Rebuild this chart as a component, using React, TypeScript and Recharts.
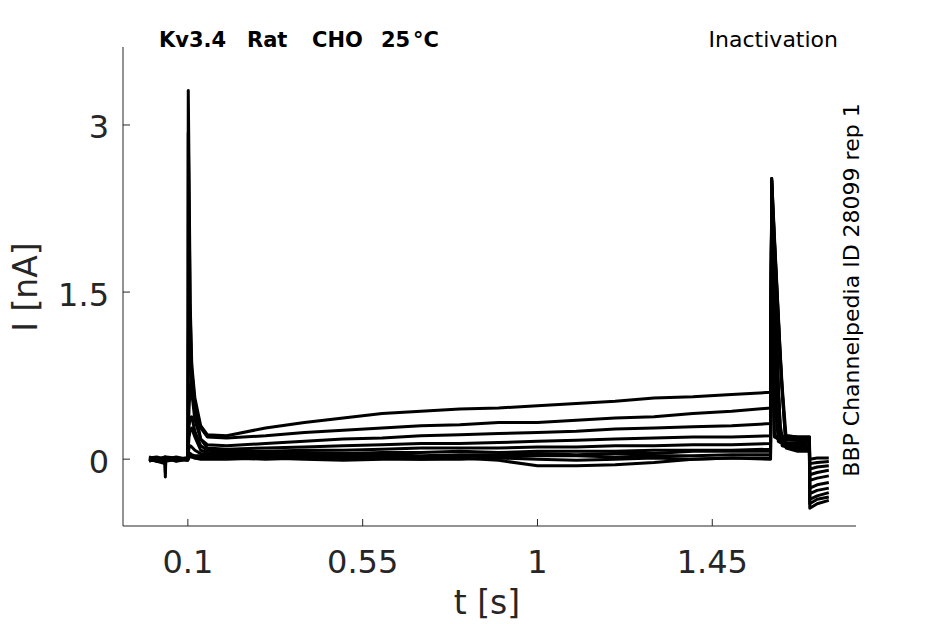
import React from "react";
import { LineChart, Line, XAxis, YAxis } from "recharts";

const FONT = "DejaVu Sans, Verdana, sans-serif";
const AXIS_COLOR = "#262626";

// time points [s]
const T = [
  0, 0.02, 0.041, 0.042, 0.043, 0.07, 0.099,
  0.1,
  0.101, 0.103, 0.106, 0.11, 0.118, 0.133, 0.15,
  0.2, 0.3, 0.4, 0.5, 0.6, 0.7, 0.8, 0.9, 1.0, 1.1, 1.2, 1.3, 1.4, 1.5, 1.6,
  1.603, 1.606, 1.61, 1.615, 1.62, 1.625, 1.63, 1.64, 1.67,
  1.7,
  1.701, 1.72, 1.75,
];

// current traces [nA], one per prepulse step
const TRACE_1 = [
  0.01, 0.02, 0.0, -0.02, 0.01, 0.0, 0.01,
  0.02,
  3.31, 2.6, 1.4, 0.85, 0.55, 0.3, 0.22,
  0.21, 0.28, 0.33, 0.37, 0.41, 0.43, 0.45, 0.46, 0.48, 0.5, 0.52, 0.55, 0.56, 0.58, 0.6,
  2.25, 0.9, 0.21, 0.2, 0.21, 0.2, 0.2, 0.21, 0.2,
  0.2,
  0.0, 0.01, 0.01,
];
const TRACE_2 = [
  -0.01, 0.0, 0.01, 0.0, 0.0, 0.02, 0.0,
  0.01,
  2.93, 2.3, 1.3, 0.8, 0.5, 0.28, 0.2,
  0.19, 0.21, 0.24, 0.26, 0.28, 0.3, 0.31, 0.33, 0.33, 0.35, 0.37, 0.38, 0.41, 0.43, 0.46,
  2.3, 1.0, 0.2, 0.19, 0.18, 0.19, 0.18, 0.19, 0.19,
  0.18,
  -0.04, -0.03, -0.02,
];
const TRACE_3 = [
  0.0, -0.02, 0.0, 0.01, -0.01, 0.0, 0.01,
  0.0,
  1.0, 1.6, 1.1, 0.6, 0.35, 0.18, 0.13,
  0.12, 0.14, 0.16, 0.18, 0.19, 0.21, 0.22, 0.23, 0.24, 0.25, 0.27, 0.28, 0.29, 0.3, 0.32,
  2.35, 1.8, 1.1, 0.4, 0.18, 0.17, 0.16, 0.17, 0.17,
  0.16,
  -0.09, -0.07, -0.06,
];
const TRACE_4 = [
  0.02, 0.0, -0.01, 0.0, 0.02, 0.01, 0.0,
  0.0,
  0.2, 0.45, 0.65, 0.72, 0.45, 0.18, 0.1,
  0.09, 0.1, 0.11, 0.12, 0.13, 0.14, 0.14, 0.15, 0.16, 0.17, 0.18, 0.19, 0.2, 0.2, 0.21,
  2.4, 1.85, 1.15, 0.45, 0.16, 0.15, 0.15, 0.14, 0.15,
  0.15,
  -0.14, -0.12, -0.1,
];
const TRACE_5 = [
  -0.02, 0.01, 0.0, -0.01, 0.0, -0.01, 0.0,
  0.0,
  0.15, 0.3, 0.37, 0.38, 0.25, 0.12, 0.08,
  0.07, 0.07, 0.08, 0.08, 0.09, 0.1, 0.1, 0.1, 0.11, 0.11, 0.12, 0.12, 0.13, 0.13, 0.14,
  2.45, 2.1, 1.6, 1.1, 0.65, 0.3, 0.2, 0.21, 0.2,
  0.2,
  -0.19, -0.17, -0.15,
];
const TRACE_6 = [
  0.0, 0.01, -0.01, 0.02, 0.0, 0.01, -0.01,
  0.0,
  0.1, 0.2, 0.26, 0.28, 0.2, 0.08, 0.06,
  0.05, 0.05, 0.06, 0.05, 0.06, 0.06, 0.07, 0.06, 0.07, 0.07, 0.07, 0.08, 0.08, 0.08, 0.09,
  2.45, 2.1, 1.6, 1.1, 0.6, 0.22, 0.14, 0.13, 0.13,
  0.12,
  -0.26, -0.23, -0.21,
];
const TRACE_7 = [
  0.01, -0.01, 0.0, 0.0, 0.01, -0.02, 0.0,
  0.0,
  0.06, 0.1, 0.12, 0.11, 0.08, 0.05, 0.04,
  0.04, 0.03, 0.04, 0.04, 0.04, 0.03, 0.04, 0.04, 0.05, 0.04, 0.05, 0.05, 0.07, 0.07, 0.07,
  2.5, 2.15, 1.65, 1.15, 0.65, 0.25, 0.12, 0.11, 0.11,
  0.1,
  -0.31, -0.28, -0.26,
];
const TRACE_8 = [
  -0.01, 0.0, 0.02, 0.01, 0.0, 0.0, 0.01,
  0.0,
  0.04, 0.06, 0.05, 0.04, 0.03, 0.03, 0.02,
  0.02, 0.03, 0.02, 0.02, 0.03, 0.02, 0.03, 0.02, 0.03, 0.03, 0.02, 0.03, 0.03, 0.04, 0.04,
  2.5, 2.25, 1.95, 1.6, 1.25, 0.9, 0.6, 0.12, 0.09,
  0.08,
  -0.36, -0.33, -0.3,
];
const TRACE_9 = [
  0.0, 0.0, -0.03, -0.12, 0.0, 0.0, -0.01,
  -0.01,
  0.02, 0.04, 0.03, 0.02, 0.01, 0.01, 0.01,
  0.01, 0.0, 0.01, 0.0, 0.01, 0.0, 0.01, -0.01, -0.06, -0.06, -0.05, -0.03, 0.0, 0.01, 0.01,
  2.52, 2.27, 1.97, 1.62, 1.27, 0.92, 0.62, 0.1, 0.07,
  0.07,
  -0.4, -0.36, -0.34,
];
const TRACE_10 = [
  0.0, -0.02, -0.04, -0.16, -0.02, 0.0, 0.0,
  0.0,
  0.02, 0.03, 0.02, 0.02, 0.01, 0.0, 0.0,
  0.0, 0.01, 0.0, -0.01, 0.0, 0.0, 0.0, 0.01, 0.0, -0.01, 0.0, 0.01, 0.0, 0.01, 0.0,
  2.52, 2.3, 2.0, 1.65, 1.3, 0.95, 0.65, 0.2, 0.18,
  0.18,
  -0.44, -0.4, -0.37,
];

const TRACES = [
  TRACE_1, TRACE_2, TRACE_3, TRACE_4, TRACE_5,
  TRACE_6, TRACE_7, TRACE_8, TRACE_9, TRACE_10,
];

const X_TICKS = [0.1, 0.55, 1, 1.45];
const Y_TICKS = [0, 1.5, 3];

// plot box in page pixels
const PLOT_LEFT = 123;
const PLOT_TOP = 47;
const PLOT_RIGHT = 856;
const PLOT_BOTTOM = 526;
const W = 945;
const H = 624;
const Y_AXIS_W = 60;
const X_AXIS_H = 60;

const rows = T.map((t, i) => {
  const row: Record<string, number> = { t };
  TRACES.forEach((tr, k) => {
    row[`s${k}`] = tr[i];
  });
  return row;
});

const XTick = (props: any) => {
  const { x, payload } = props;
  return (
    <g>
      <line x1={x} x2={x} y1={PLOT_BOTTOM} y2={PLOT_BOTTOM - 7} stroke={AXIS_COLOR} />
      <text
        x={x}
        y={PLOT_BOTTOM + 47}
        textAnchor="middle"
        fontSize={32}
        fontFamily={FONT}
        fill={AXIS_COLOR}
      >
        {String(payload.value)}
      </text>
    </g>
  );
};

const YTick = (props: any) => {
  const { y, payload } = props;
  return (
    <g>
      <line x1={PLOT_LEFT} x2={PLOT_LEFT + 7} y1={y} y2={y} stroke={AXIS_COLOR} />
      <text
        x={109}
        y={y + 13.5}
        textAnchor="end"
        fontSize={32}
        fontFamily={FONT}
        fill={AXIS_COLOR}
      >
        {String(payload.value)}
      </text>
    </g>
  );
};

export default function App() {
  return (
    <div
      style={{
        position: "absolute",
        left: 0,
        top: 0,
        width: W,
        height: H,
        background: "#fff",
      }}
    >
      <LineChart
        width={W}
        height={H}
        data={rows}
        margin={{
          top: PLOT_TOP,
          right: W - PLOT_RIGHT,
          bottom: H - PLOT_BOTTOM - X_AXIS_H,
          left: PLOT_LEFT - Y_AXIS_W,
        }}
      >
        <XAxis
          type="number"
          dataKey="t"
          domain={[-0.067, 1.82]}
          ticks={X_TICKS}
          allowDataOverflow
          height={X_AXIS_H}
          tickSize={0}
          tickMargin={0}
          tickLine={false}
          axisLine={{ stroke: AXIS_COLOR, strokeWidth: 1 }}
          tick={<XTick />}
          interval={0}
        />
        <YAxis
          type="number"
          domain={[-0.6, 3.7]}
          ticks={Y_TICKS}
          allowDataOverflow
          width={Y_AXIS_W}
          tickSize={0}
          tickMargin={0}
          tickLine={false}
          axisLine={{ stroke: AXIS_COLOR, strokeWidth: 1 }}
          tick={<YTick />}
          interval={0}
        />
        {TRACES.map((_, k) => (
          <Line
            key={k}
            type="linear"
            dataKey={`s${k}`}
            stroke="#000"
            strokeWidth={3}
            strokeLinejoin="round"
            dot={false}
            activeDot={false}
            isAnimationActive={false}
          />
        ))}
      </LineChart>
      <svg
        width={W}
        height={H}
        style={{ position: "absolute", left: 0, top: 0, pointerEvents: "none" }}
        fontFamily={FONT}
      >
        <g fontWeight="bold" fontSize={21} fill="#000">
          <text x={159} y={47}>Kv3.4</text>
          <text x={247} y={47}>Rat</text>
          <text x={312} y={47}>CHO</text>
          <text x={381} y={47}>25</text>
          <text x={413} y={47}>°C</text>
        </g>
        <text x={838} y={47} textAnchor="end" fontSize={22} fill="#000">
          Inactivation
        </text>
        <text
          x={859}
          y={290}
          textAnchor="middle"
          fontSize={22}
          fill="#000"
          transform="rotate(-90 859 290)"
        >
          BBP Channelpedia ID 28099 rep 1
        </text>
        <text x={487} y={614} textAnchor="middle" fontSize={33} fill={AXIS_COLOR}>
          t [s]
        </text>
        <text
          x={37}
          y={287}
          textAnchor="middle"
          fontSize={33}
          fill={AXIS_COLOR}
          transform="rotate(-90 37 287)"
        >
          I [nA]
        </text>
      </svg>
    </div>
  );
}
